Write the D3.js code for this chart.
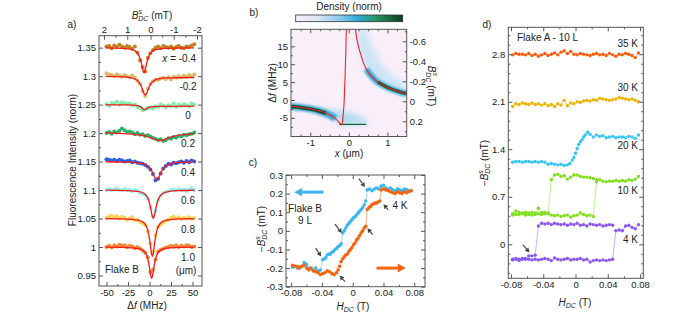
<!DOCTYPE html>
<html><head><meta charset="utf-8">
<script src="https://cdn.jsdelivr.net/npm/d3@7"></script>
<style>
body{margin:0;background:#fff}
svg{font-family:"Liberation Sans",Arial,Helvetica,sans-serif;fill:#222}
.axis path{display:none}
.axis line{stroke:#555}
.axis text{font-size:9.5px;fill:#222;font-family:"Liberation Sans",Arial,sans-serif}
.lbl{font-size:10px;fill:#222}
</style></head><body>
<svg id="fig" width="700" height="313"></svg>
<script>
// ---------- panel a : ODMR traces (offsets in 1e-3 from each baseline) ----------
var fGrid = [-50,-47,-44,-41,-38,-35,-32,-29,-26,-23,-20,-17,-14,-11,-8,-5,-2,1,4,7,10,13,16,19,22,25,28,31,34,37,40,43,46,49,52];
var aPos = ["-0.4","-0.2","0","0.2","0.4","0.6","0.8","1.0"];
var aBase = [1.35,1.30,1.25,1.20,1.15,1.10,1.05,1.00];
var dotsA0 = [2,3,-1,4,1,5,2,0,3,1,-2,2,-9,-22,-34,-42,-18,-10,-4,0,2,-1,3,1,0,2,-2,1,3,0,-1,2,1,4,6];
var dotsA1 = [5,3,2,0,3,1,-1,2,0,-2,1,-3,-8,-14,-26,-35,-22,-14,-9,-6,-7,-4,-3,-5,-2,-6,-1,-3,0,-2,1,-1,2,0,3];
var dotsA2 = [1,-2,3,2,5,0,4,3,1,2,-1,0,-4,-6,-10,-8,-6,-5,-7,-3,-4,0,-2,-5,-1,-3,2,-4,0,-2,1,-1,-3,2,0];
var dotsA3 = [0,2,-1,3,1,4,8,5,2,3,1,-2,0,-3,-2,-5,-4,-6,-8,-10,-12,-11,-14,-12,-9,-10,-7,-8,-5,-6,-3,-4,-2,-1,1];
var dotsA4 = [4,3,2,3,1,3,2,0,1,2,-1,0,-2,-3,-4,-6,-9,-14,-22,-33,-30,-21,-12,-8,-4,-5,-2,-3,-1,0,-2,1,-1,2,0];
var dotsA5 = [0,2,-1,1,3,0,-1,2,0,1,-2,0,-1,-5,-6,-9,-15,-30,-46,-36,-18,-10,-6,-3,-2,0,1,-1,2,0,1,-2,1,3,0];
var dotsA6 = [1,3,5,2,4,0,3,1,-2,0,2,-3,-2,-6,-8,-12,-22,-44,-58,-30,-15,-10,-6,-4,-2,1,3,0,2,-1,1,0,2,-1,1];
var dotsA7 = [0,2,-1,3,1,4,2,3,0,2,1,-2,0,-3,-6,-10,-18,-44,-40,-22,-8,-5,-3,-1,0,2,1,3,0,2,1,3,2,0,1];
// fitted curves, [df (MHz), offset 1e-3]
var fitA0 = [[-51,-0.5],[-30,-1.2],[-20,-3.5],[-15,-7.8],[-12,-14.9],[-10,-24.3],[-8.5,-34.5],[-7.5,-40.9],[-6.4,-44],[-5.3,-40.9],[-4.3,-34.5],[-2.8,-24.3],[-0.8,-14.9],[2.2,-7.8],[7.2,-3.5],[17.2,-1.2],[52,-0.4]];
var fitA1 = [[-51,-0.5],[-30,-1.3],[-20,-3.3],[-15,-6.6],[-12,-11.1],[-10,-16.5],[-8,-24.3],[-6.5,-30.3],[-5,-33],[-3.5,-30.6],[-2,-25],[0,-17.8],[2,-12.6],[5,-8.3],[10,-5],[20,-3.2],[52,-2.4]];
var fitA2 = [[-51,-0.3],[-25,-0.6],[-16,-1.3],[-12,-2.7],[-9,-5.2],[-7.5,-7.8],[-6,-9],[-4.5,-8.2],[-3,-6.6],[0,-4.4],[5,-3.4],[15,-3],[52,-2.8]];
var fitA3 = [[-51,0.3],[-40,0.1],[-30,-1.0],[-15,-2.7],[-5,-5.1],[2,-8.6],[8,-12],[12,-13],[16,-12],[22,-8.6],[30,-4.9],[40,-2.6],[52,-1.4]];
var fitA4 = [[-51,-0.3],[-25,-1.0],[-12,-2.5],[-5,-5.3],[0,-10.8],[3,-17.7],[6,-27.6],[8.4,-32],[11,-26.9],[14,-17.1],[18,-9],[25,-3.7],[35,-1.5],[52,-0.6]];
var fitA5 = [[-51,-0.25],[-25,-0.9],[-12,-2.8],[-6,-6.4],[-2,-14],[1,-29],[3,-44.5],[4.4,-50],[6,-43],[8,-27.6],[11,-13.4],[17,-4.6],[30,-1.2],[52,-0.35]];
var fitA6 = [[-51,-0.27],[-25,-1.0],[-12,-3.3],[-6,-8.3],[-2,-20.4],[0.5,-40.9],[2,-58.9],[3.3,-67],[4.6,-58.9],[6.1,-40.9],[8.6,-20.4],[12.6,-8.3],[20,-2.8],[35,-0.8],[52,-0.35]];
var fitA7 = [[-51,-0.2],[-25,-1.0],[-12,-3.0],[-6.8,-6.8],[-2.8,-16.8],[-0.3,-33.6],[1.2,-48.3],[2.5,-55],[3.8,-48.3],[5.3,-33.6],[7.8,-16.8],[11.8,-6.8],[20,-2.1],[35,-0.6],[52,-0.2]];
var aDots = [dotsA0,dotsA1,dotsA2,dotsA3,dotsA4,dotsA5,dotsA6,dotsA7];
var aFits = [fitA0,fitA1,fitA2,fitA3,fitA4,fitA5,fitA6,fitA7];
var aColors = ["#c47f1f","#dcbb68","#80efa8","#2db26d","#2f5fe4","#92f0ec","#fbcf55","#f8883a"];

// ---------- panel b : density map ridges and model curve, [x (um), df (MHz)] ----------
var redLeft = [[-1.5,-1.75],[-1.25,-2.05],[-1.0,-2.45],[-0.75,-3.1],[-0.55,-3.9],[-0.4,-4.8],[-0.3,-5.7],[-0.22,-6.6],[-0.18,-7.0]];
var redMid = [[-0.18,-7.0],[-0.15,-4.5],[-0.12,0],[-0.1,6],[-0.08,13],[-0.065,20]];
var redRight = [[0.17,20],[0.2,17.5],[0.25,15],[0.3,13],[0.4,9.8],[0.5,7.8],[0.6,6.5],[0.75,5],[1.0,3.5],[1.25,2.5],[1.5,1.7]];
var ridgeLeft = [[-1.5,-1.8],[-1.25,-2.1],[-1.0,-2.5],[-0.8,-3.0],[-0.6,-3.7],[-0.45,-4.5],[-0.35,-5.2]];
var ridgeRight = [[0.45,8.7],[0.6,6.5],[0.75,5.0],[0.9,4.1],[1.05,3.3],[1.25,2.5],[1.5,1.7]];
var hazeLeft = [[-1.0,-2.1],[-0.6,-2.5],[-0.3,-2.9],[0.0,-3.4],[0.25,-4.2],[0.45,-5.5],[0.5,-6.8],[-0.2,-7.0],[-0.4,-5.0],[-0.7,-3.4],[-1.0,-2.6]];
var hazeRight = [[0.2,20],[0.45,20],[0.6,15],[0.85,10],[1.1,7],[1.35,5.2],[1.5,4.5],[1.5,1.8],[1.2,2.6],[0.9,3.8],[0.6,6.2],[0.4,9.5],[0.28,13.5],[0.2,17.5]];
var floorLine = [[-0.25,-6.8],[0.45,-6.8]];

// ---------- panel c : Flake B 9 L hysteresis ----------
var cyanH = [-0.078,-0.075,-0.072,-0.069,-0.066,-0.063,-0.060,-0.057,-0.054,-0.051,-0.048,-0.045,-0.042,-0.039,
  -0.037,-0.035,-0.033,-0.031,-0.029,-0.027,-0.025,-0.023,-0.021,-0.019,-0.017,-0.015,-0.013,-0.011,-0.009,-0.007,-0.005,-0.003,-0.001,0.001,0.003,0.005,0.007,0.009,0.011,0.013,0.015,0.017,0.019,
  0.022,0.025,0.028,0.031,0.034,0.037,0.040,0.043,0.046,0.049,0.052,0.055,0.058,0.061,0.064,0.067,0.070,0.073,0.076];
var cyanB = [-0.195,-0.19,-0.20,-0.195,-0.19,-0.17,-0.18,-0.20,-0.205,-0.21,-0.20,-0.215,-0.21,-0.155,
  -0.15,-0.145,-0.13,-0.125,-0.125,-0.115,-0.11,-0.10,-0.095,-0.085,-0.08,-0.07,-0.01,0.0,0.015,0.03,0.04,0.05,0.06,0.07,0.075,0.085,0.095,0.105,0.115,0.125,0.14,0.16,0.22,
  0.225,0.215,0.225,0.23,0.225,0.24,0.245,0.23,0.225,0.23,0.22,0.215,0.225,0.22,0.215,0.225,0.22,0.215,0.215];
var orangeH = [-0.078,-0.075,-0.072,-0.069,-0.066,-0.063,-0.060,-0.057,-0.054,-0.051,-0.048,-0.045,-0.042,-0.039,-0.036,-0.033,-0.030,-0.027,-0.024,-0.021,
  -0.019,-0.017,-0.015,-0.013,-0.011,-0.009,-0.007,-0.005,-0.003,-0.001,0.001,0.003,0.005,0.007,0.009,0.011,0.013,0.015,0.017,0.019,0.021,0.023,0.025,0.027,0.029,0.031,0.033,0.035,0.037,
  0.040,0.043,0.046,0.049,0.052,0.055,0.058,0.061,0.064,0.067,0.070,0.073,0.076];
var orangeB = [-0.185,-0.19,-0.19,-0.20,-0.19,-0.185,-0.20,-0.21,-0.20,-0.215,-0.22,-0.225,-0.235,-0.23,-0.225,-0.215,-0.22,-0.23,-0.235,-0.225,
  -0.21,-0.19,-0.165,-0.15,-0.14,-0.13,-0.125,-0.11,-0.10,-0.09,-0.075,-0.065,-0.05,-0.04,-0.025,-0.01,0.0,0.015,0.025,0.115,0.125,0.13,0.14,0.145,0.15,0.15,0.155,0.16,0.22,
  0.225,0.22,0.215,0.21,0.205,0.20,0.21,0.205,0.20,0.21,0.205,0.21,0.215];
var cArrows = [[[0.008,0.28],[0.016,0.235]],[[0.046,0.113],[0.040,0.143]],[[0.026,-0.02],[0.019,0.014]],
  [[-0.023,0.036],[-0.014,-0.012]],[[-0.048,-0.093],[-0.041,-0.138]],[[-0.010,-0.273],[-0.017,-0.24]]];

// ---------- panel d : Flake A 10 L vs temperature ----------
var dH = [-0.078,-0.074,-0.070,-0.066,-0.062,-0.058,-0.054,-0.050,-0.046,-0.042,-0.038,-0.034,-0.030,-0.026,-0.022,-0.018,-0.014,-0.010,-0.006,-0.002,
  0.002,0.006,0.010,0.014,0.018,0.022,0.026,0.030,0.034,0.038,0.042,0.046,0.050,0.054,0.058,0.062,0.066,0.070,0.074,0.078];
var d35 = [2.79,2.81,2.80,2.80,2.79,2.81,2.78,2.80,2.77,2.79,2.81,2.78,2.80,2.82,2.79,2.83,2.85,2.81,2.84,2.80,2.79,2.81,2.80,2.79,2.78,2.80,2.81,2.79,2.80,2.78,2.81,2.79,2.77,2.80,2.79,2.81,2.80,2.78,2.75,2.82];
var d30 = [2.03,2.07,2.06,2.08,2.07,2.06,2.08,2.06,2.07,2.05,2.07,2.04,2.06,2.03,2.07,2.05,2.12,2.04,2.08,2.07,2.10,2.09,2.11,2.12,2.11,2.13,2.12,2.15,2.14,2.13,2.12,2.13,2.14,2.16,2.15,2.14,2.13,2.14,2.12,2.10];
var h20 = [-0.078,-0.074,-0.070,-0.066,-0.062,-0.058,-0.054,-0.050,-0.046,-0.042,-0.038,-0.034,-0.030,-0.026,-0.022,-0.018,-0.014,-0.010,
  -0.007,-0.004,-0.002,0.000,0.002,0.004,0.006,0.008,0.010,0.012,0.015,0.018,
  0.022,0.026,0.030,0.034,0.038,0.042,0.046,0.050,0.054,0.058,0.062,0.066,0.070,0.074,0.078];
var d20 = [1.21,1.22,1.22,1.21,1.22,1.22,1.21,1.22,1.21,1.22,1.21,1.18,1.19,1.18,1.17,1.18,1.16,1.17,
  1.19,1.24,1.28,1.34,1.41,1.47,1.51,1.54,1.58,1.61,1.65,1.62,
  1.58,1.61,1.59,1.60,1.57,1.58,1.59,1.57,1.58,1.58,1.57,1.59,1.58,1.56,1.61];
var d10up = [0.45,0.49,0.47,0.46,0.47,0.46,0.47,0.46,0.53,0.47,0.47,0.45,0.43,0.42,0.43,0.41,0.42,0.43,0.40,0.42,0.43,0.46,0.44,0.42,0.43,0.41,
  0.92,0.95,0.93,0.92,0.93,0.93,0.94,0.93,0.94,0.93,0.95,0.94,0.96,1.00];
var d10down = [0.43,0.44,0.44,0.45,0.43,0.44,0.43,0.44,0.45,0.44,0.45,0.46,
  0.95,1.02,1.03,1.00,1.01,0.96,0.99,1.02,1.02,1.00,0.99,0.99,0.98,0.97,0.95];
var d4up = [-0.23,-0.22,-0.24,-0.22,-0.21,-0.22,-0.23,-0.22,-0.23,-0.22,-0.21,-0.22,-0.24,-0.20,-0.22,-0.23,-0.22,-0.21,-0.23,-0.22,-0.22,-0.21,-0.23,-0.22,-0.26,-0.24,-0.23,-0.24,-0.23,-0.24,-0.23,-0.22,
  0.20,0.21,0.20,0.27,0.28,0.25,0.23,0.29];
var d4down = [-0.22,-0.21,-0.22,-0.21,-0.22,-0.17,-0.17,-0.16,
  0.27,0.31,0.30,0.31,0.29,0.31,0.30,0.29,0.30,0.28,0.30,0.29,0.31,0.28,0.29,0.27,0.30,0.29,0.28,0.29,0.27,0.28,0.29,0.28];
var dTemps = ["35 K","30 K","20 K","10 K","4 K"];

// ======================================================================
var svg = d3.select("#fig");
var defs = svg.append("defs");

function frame(x0, x1, y0, y1) {
  svg.append("rect").attr("x", x0).attr("y", y0).attr("width", x1 - x0).attr("height", y1 - y0)
    .attr("fill", "none").attr("stroke", "#555").attr("stroke-width", 1);
}
function fmt(v) { return String(Math.round(v * 1000) / 1000); }
function axis(gen, scale, tr, major, minor, labels) {
  var a = gen(scale).tickValues(major).tickSizeInner(-4).tickSizeOuter(0).tickPadding(3)
    .tickFormat(labels ? fmt : "");
  svg.append("g").attr("class", "axis").attr("transform", tr).call(a);
  if (minor) svg.append("g").attr("class", "axis").attr("transform", tr)
    .call(gen(scale).tickValues(minor).tickSizeInner(-2).tickSizeOuter(0).tickFormat(""));
}
function text(x, y, s, anchor, rot) {
  var t = svg.append("text").attr("class", "lbl").attr("text-anchor", anchor || "middle")
    .attr("dominant-baseline", "middle")
    .attr("transform", "translate(" + x + "," + y + ")" + (rot ? " rotate(" + rot + ")" : ""));
  if (s) t.text(s);
  return t;
}
function bsdc(t, minus) {
  if (minus) t.append("tspan").text("\u2212");
  t.append("tspan").style("font-style", "italic").text("B");
  t.append("tspan").style("font-style", "italic").style("font-size", "7px").attr("dy", -4).text("s");
  t.append("tspan").style("font-style", "italic").style("font-size", "7px").attr("dx", -3.6).attr("dy", 7).text("DC");
  t.append("tspan").attr("dy", -3).text(" (mT)");
}
function arrow(p0, p1, color, w, head) {
  var ang = Math.atan2(p1[1] - p0[1], p1[0] - p0[0]);
  var bx = p1[0] - head * Math.cos(ang), by = p1[1] - head * Math.sin(ang);
  svg.append("line").attr("x1", p0[0]).attr("y1", p0[1]).attr("x2", bx).attr("y2", by)
    .attr("stroke", color).attr("stroke-width", w);
  var hw = head * 0.55;
  svg.append("path").attr("fill", color)
    .attr("d", "M" + p1[0] + "," + p1[1] + "L" + (bx + hw * Math.sin(ang)) + "," + (by - hw * Math.cos(ang)) +
      "L" + (bx - hw * Math.sin(ang)) + "," + (by + hw * Math.cos(ang)) + "Z");
}

// ---------------- panel a ----------------
var ax = d3.scaleLinear().domain([-58.7, 61]).range([99, 202]);
var aTop = d3.scaleLinear().domain([2.215, -2.215]).range([99, 202]);
var ay = d3.scaleLinear().domain([0.9315, 1.371]).range([286, 35.7]);

aDots.forEach(function (arr, i) {
  svg.append("g").selectAll("circle").data(arr).enter().append("circle")
    .attr("cx", function (d, j) { return ax(fGrid[j]); })
    .attr("cy", function (d) { return ay(aBase[i] + d / 1000); })
    .attr("r", 2).attr("fill", aColors[i]);
});
var fitLine = function (base) {
  return d3.line().curve(d3.curveMonotoneX)
    .x(function (d) { return ax(d[0]); })
    .y(function (d) { return ay(base + d[1] / 1000); });
};
aFits.forEach(function (arr, i) {
  svg.append("path").attr("d", fitLine(aBase[i])(arr)).attr("fill", "none")
    .attr("stroke", "#f41a1a").attr("stroke-width", 1.3);
});
frame(99, 202, 35.7, 286);
axis(d3.axisLeft, ay, "translate(99,0)", [0.95,1,1.05,1.1,1.15,1.2,1.25,1.3,1.35], [0.975,1.025,1.075,1.125,1.175,1.225,1.275,1.325], true);
axis(d3.axisRight, ay, "translate(202,0)", [0.95,1,1.05,1.1,1.15,1.2,1.25,1.3,1.35], null, false);
axis(d3.axisBottom, ax, "translate(0,286)", [-50,-25,0,25,50], [-37.5,-12.5,12.5,37.5], true);
axis(d3.axisTop, aTop, "translate(0,35.7)", [2,1,0,-1,-2], [1.5,0.5,-0.5,-1.5], true);

aPos.forEach(function (p, i) {
  var y = ay(aBase[i] - 0.02);
  if (i === 0) {
    var t = text(196, y, null, "end");
    t.append("tspan").style("font-style", "italic").text("x");
    t.append("tspan").text(" = " + p);
  } else text(188, y, p);
});
text(186, ay(0.958), "(\u03bcm)");
text(105, 270, "Flake B", "start");
text(72, 25, "a)");
var ta = text(73, 160, "Fluorescence Intensity (norm)", "middle", -90);
var tat = text(152, 16, null);
bsdc(tat, false);
var tab = text(147, 306, null);
tab.append("tspan").text("\u0394");
tab.append("tspan").style("font-style", "italic").text("f");
tab.append("tspan").text(" (MHz)");

// ---------------- panel b ----------------
var bx = d3.scaleLinear().domain([-1.5, 1.5]).range([291, 406.7]);
var by = d3.scaleLinear().domain([-10.2, 19.75]).range([136.5, 29.3]);
var bB = d3.scaleLinear().domain([0.352, -0.72]).range([136.5, 29.3]);

defs.append("clipPath").attr("id", "clipB").append("rect")
  .attr("x", 291).attr("y", 29.3).attr("width", 115.7).attr("height", 107.2);
var f1 = defs.append("filter").attr("id", "blur3").attr("x", "-50%").attr("y", "-50%").attr("width", "200%").attr("height", "200%");
f1.append("feGaussianBlur").attr("stdDeviation", 3);
var f2 = defs.append("filter").attr("id", "blur1").attr("x", "-50%").attr("y", "-50%").attr("width", "200%").attr("height", "200%");
f2.append("feGaussianBlur").attr("stdDeviation", 1.2);

var grad = defs.append("linearGradient").attr("id", "dens");
[[0, "#f9eff9"], [0.2, "#dfe4f5"], [0.42, "#86c8ec"], [0.58, "#2ea6da"], [0.74, "#27986e"], [0.88, "#15693a"], [1, "#0a3a1c"]]
  .forEach(function (s) { grad.append("stop").attr("offset", s[0]).attr("stop-color", s[1]); });

var gb = svg.append("g").attr("clip-path", "url(#clipB)");
gb.append("rect").attr("x", 291).attr("y", 29.3).attr("width", 115.7).attr("height", 107.2).attr("fill", "#f9eff9");
var bLine = d3.line().curve(d3.curveMonotoneX).x(function (d) { return bx(d[0]); }).y(function (d) { return by(d[1]); });
var bPoly = d3.line().curve(d3.curveLinearClosed).x(function (d) { return bx(d[0]); }).y(function (d) { return by(d[1]); });
gb.append("path").attr("d", bPoly(hazeLeft)).attr("fill", "#a6d9f2").attr("opacity", 0.85).attr("filter", "url(#blur3)");
gb.append("path").attr("d", bPoly(hazeRight)).attr("fill", "#b8e0f4").attr("opacity", 0.7).attr("filter", "url(#blur3)");
gb.append("path").attr("d", bLine(ridgeLeft)).attr("fill", "none").attr("stroke", "#3ba6d2").attr("stroke-width", 7).attr("filter", "url(#blur1)");
gb.append("path").attr("d", bLine(ridgeRight)).attr("fill", "none").attr("stroke", "#3aa8d2").attr("stroke-width", 6).attr("filter", "url(#blur1)");
gb.append("path").attr("d", bLine(ridgeLeft.slice(0, 5))).attr("fill", "none").attr("stroke", "#0f5231").attr("stroke-width", 3.5);
gb.append("path").attr("d", bLine(ridgeRight.slice(2))).attr("fill", "none").attr("stroke", "#115a34").attr("stroke-width", 3);
gb.append("path").attr("d", bLine(floorLine)).attr("fill", "none").attr("stroke", "#2aa090").attr("stroke-width", 3).attr("filter", "url(#blur1)");
gb.append("path").attr("d", bLine(floorLine)).attr("fill", "none").attr("stroke", "#176238").attr("stroke-width", 1.4);
[redLeft, redMid, redRight].forEach(function (arr) {
  gb.append("path").attr("d", bLine(arr)).attr("fill", "none").attr("stroke", "#f0202a").attr("stroke-width", 1.1);
});
frame(291, 406.7, 29.3, 136.5);
axis(d3.axisBottom, bx, "translate(0,136.5)", [-1, 0, 1], [-1.25,-0.75,-0.5,-0.25,0.25,0.5,0.75,1.25], true);
axis(d3.axisTop, bx, "translate(0,29.3)", [-1, 0, 1], [-1.25,-0.75,-0.5,-0.25,0.25,0.5,0.75,1.25], false);
axis(d3.axisLeft, by, "translate(291,0)", [-5, 0, 5, 10, 15], [-7.5,-2.5,2.5,7.5,12.5,17.5], true);
axis(d3.axisRight, bB, "translate(406.7,0)", [-0.6, -0.4, -0.2, 0, 0.2], [-0.7,-0.5,-0.3,-0.1,0.1,0.3], true);
svg.append("rect").attr("x", 295.7).attr("y", 15).attr("width", 107).attr("height", 6.7)
  .attr("fill", "url(#dens)").attr("stroke", "#333").attr("stroke-width", 0.8);
text(349, 7.5, "Density (norm)");
text(254, 13, "b)");
var tbl = text(273, 83, null, "middle", -90);
tbl.append("tspan").text("\u0394");
tbl.append("tspan").style("font-style", "italic").text("f");
tbl.append("tspan").text(" (MHz)");
var tbr = text(431, 86, null, "middle", 90);
bsdc(tbr, false);
var tbb = text(349, 154, null);
tbb.append("tspan").style("font-style", "italic").text("x");
tbb.append("tspan").text(" (\u03bcm)");

// ---------------- panel c ----------------
var cx = d3.scaleLinear().domain([-0.0866, 0.0939]).range([286, 425]);
var cy = d3.scaleLinear().domain([-0.3, 0.3]).range([286.7, 175]);
function series(H, B, xs, ys, col, lineCol, r) {
  var pts = H.map(function (h, i) { return [h, B[i]]; });
  svg.append("path").attr("d", d3.line().x(function (d) { return xs(d[0]); }).y(function (d) { return ys(d[1]); })(pts))
    .attr("fill", "none").attr("stroke", lineCol).attr("stroke-width", 1);
  svg.append("g").selectAll("circle").data(pts).enter().append("circle")
    .attr("cx", function (d) { return xs(d[0]); }).attr("cy", function (d) { return ys(d[1]); })
    .attr("r", r).attr("fill", col);
}
series(cyanH, cyanB, cx, cy, "#3cb6f2", "#9fdcf8", 1.8);
series(orangeH, orangeB, cx, cy, "#f5640f", "#f9ad7a", 1.8);
frame(286, 425, 175, 286.7);
axis(d3.axisLeft, cy, "translate(286,0)", [-0.3,-0.2,-0.1,0,0.1,0.2,0.3], [-0.25,-0.15,-0.05,0.05,0.15,0.25], true);
axis(d3.axisRight, cy, "translate(425,0)", [-0.3,-0.2,-0.1,0,0.1,0.2,0.3], [-0.25,-0.15,-0.05,0.05,0.15,0.25], false);
axis(d3.axisBottom, cx, "translate(0,286.7)", [-0.08,-0.04,0,0.04,0.08], [-0.06,-0.02,0.02,0.06], true);
axis(d3.axisTop, cx, "translate(0,175)", [-0.08,-0.04,0,0.04,0.08], [-0.06,-0.02,0.02,0.06], false);
cArrows.forEach(function (a) {
  arrow([cx(a[0][0]), cy(a[0][1])], [cx(a[1][0]), cy(a[1][1])], "#444", 1.2, 4.5);
});
arrow([cx(-0.038), cy(0.208)], [cx(-0.076), cy(0.208)], "#3cb6f2", 3, 8);
arrow([cx(0.031), cy(-0.2)], [cx(0.069), cy(-0.2)], "#f5640f", 3, 8);
text(305, 209, "Flake B");
text(305, 221, "9 L");
text(400, 206, "4 K");
text(253, 163, "c)");
var tcl = text(262, 229, null, "middle", -90);
bsdc(tcl, true);
var tcb = text(353, 307, null);
tcb.append("tspan").style("font-style", "italic").text("H");
tcb.append("tspan").style("font-style", "italic").style("font-size", "7px").attr("dy", 3).text("DC");
tcb.append("tspan").attr("dy", -3).text(" (T)");

// ---------------- panel d ----------------
var dx = d3.scaleLinear().domain([-0.0833, 0.0840]).range([508.3, 643.3]);
var dy = d3.scaleLinear().domain([-0.5007, 3.196]).range([278.3, 27.3]);
series(dH, d35, dx, dy, "#ff5a0a", "#ffa070", 1.7);
series(dH, d30, dx, dy, "#efb300", "#f6d46a", 1.7);
series(h20, d20, dx, dy, "#36c5f5", "#9be2fa", 1.7);
series(dH, d10up, dx, dy, "#7ee01a", "#bff08a", 1.7);
series(dH.slice(0, 27), d10down, dx, dy, "#7ee01a", "#bff08a", 1.7);
series(dH, d4up, dx, dy, "#8a56f0", "#c8b0f8", 1.7);
series(dH.slice(0, 32), d4down, dx, dy, "#8a56f0", "#c8b0f8", 1.7);
frame(508.3, 643.3, 27.3, 278.3);
var dMinor = [-0.42,-0.28,-0.14,0.14,0.28,0.42,0.56,0.84,0.98,1.12,1.26,1.54,1.68,1.82,1.96,2.24,2.38,2.52,2.66,2.94,3.08];
axis(d3.axisLeft, dy, "translate(508.3,0)", [0, 0.7, 1.4, 2.1, 2.8], dMinor, true);
axis(d3.axisRight, dy, "translate(643.3,0)", [0, 0.7, 1.4, 2.1, 2.8], dMinor, false);
axis(d3.axisBottom, dx, "translate(0,278.3)", [-0.08,-0.04,0,0.04,0.08], [-0.06,-0.02,0.02,0.06], true);
axis(d3.axisTop, dx, "translate(0,27.3)", [-0.08,-0.04,0,0.04,0.08], [-0.06,-0.02,0.02,0.06], false);
arrow([dx(-0.065), dy(-0.01)], [dx(-0.057), dy(-0.12)], "#444", 1.2, 4.5);
text(517, 38.5, "Flake A - 10 L", "start");
var tY = [44.3, 88.3, 146.7, 191.7, 240];
dTemps.forEach(function (t, i) { text(638, tY[i], t, "end"); });
text(487, 25, "d)");
var tdl = text(485, 163, null, "middle", -90);
bsdc(tdl, true);
var tdb = text(575, 303, null);
tdb.append("tspan").style("font-style", "italic").text("H");
tdb.append("tspan").style("font-style", "italic").style("font-size", "7px").attr("dy", 3).text("DC");
tdb.append("tspan").attr("dy", -3).text(" (T)");
</script>
</body></html>
